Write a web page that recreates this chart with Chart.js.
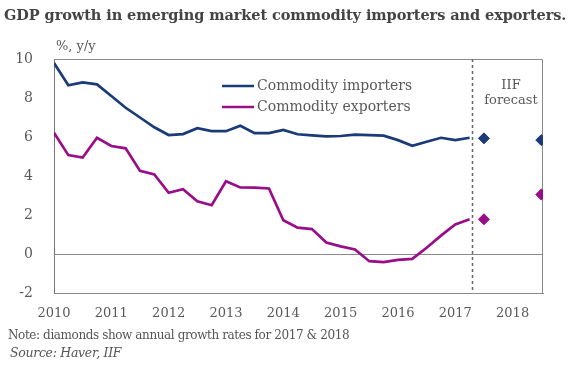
<!DOCTYPE html>
<html>
<head>
<meta charset="utf-8">
<script src="https://cdn.jsdelivr.net/npm/chart.js@4.4.1/dist/chart.umd.min.js"></script>
<style>
    html, body { margin: 0; padding: 0; background: #fff; }
    #wrap { position: relative; width: 570px; height: 372px; overflow: hidden; }
    #chart { position: absolute; left: 0; top: 0; }
    .txt { position: absolute; font-family: "DejaVu Serif", serif; color: #555; white-space: nowrap; }
    #title { left: 4px; top: 6px; font-size: 14.5px; font-weight: bold; color: #444; letter-spacing: -0.08px; }
    #note { left: 8px; top: 328px; font-size: 12px; letter-spacing: -0.4px; }
    #source { left: 10px; top: 345px; font-size: 12.5px; font-style: italic; letter-spacing: -0.3px; }
</style>
</head>
<body>
<div id="wrap">
    <canvas id="chart" width="570" height="372"></canvas>
    <div class="txt" id="title">GDP growth in emerging market commodity importers and exporters.</div>
    <div class="txt" id="note">Note: diamonds show annual growth rates for 2017 &amp; 2018</div>
    <div class="txt" id="source">Source: Haver, IIF</div>
</div>
<script>
// quarterly data, 2010Q1 .. 2017Q2
const startYear = 2010;
const importers = [9.8, 8.65, 8.8, 8.7, 8.1, 7.5, 7.0, 6.5, 6.1, 6.15, 6.45, 6.3, 6.3, 6.58, 6.2,
    6.2, 6.36, 6.14, 6.08, 6.03, 6.05, 6.12, 6.1, 6.07, 5.84, 5.55, 5.76, 5.96, 5.84, 5.96];
const exporters = [6.22, 5.07, 4.95, 5.96, 5.54, 5.42, 4.26, 4.08, 3.14, 3.32, 2.7, 2.5, 3.73, 3.41, 3.4,
    3.36, 1.73, 1.35, 1.28, 0.59, 0.39, 0.23, -0.37, -0.42, -0.3, -0.25, 0.32, 0.94, 1.52, 1.78];

// annual forecasts (diamonds)
const forecastYears = [2017, 2018];
const importersAnnual = [5.93, 5.84];
const exportersAnnual = [1.78, 3.05];

const yearTicks = [2010, 2011, 2012, 2013, 2014, 2015, 2016, 2017, 2018];
const yTicks = [-2, 0, 2, 4, 6, 8, 10];

const blue = '#1a3a78';
const purple = '#990d88';
const grey = '#8a8a8a';
const textGrey = '#595959';
const serif = '"DejaVu Serif", serif';

const toPoints = arr => arr.map((v, i) => ({ x: startYear + i / 4, y: v }));
const annualPoints = arr => arr.map((v, i) => ({ x: forecastYears[i] + 0.5, y: v }));

// frame, forecast divider and in-chart labels
const decorations = {
    id: 'decorations',
    beforeDatasetsDraw(chart) {
        const { ctx, chartArea: a, scales: { x, y } } = chart;
        ctx.save();
        ctx.strokeStyle = grey;
        ctx.lineWidth = 1;
        ctx.beginPath();
        ctx.moveTo(a.left, a.top + 0.5);
        ctx.lineTo(a.right - 0.5, a.top + 0.5);
        ctx.lineTo(a.right - 0.5, a.bottom);
        ctx.stroke();

        // zero line
        const y0 = Math.round(y.getPixelForValue(0)) + 0.5;
        ctx.beginPath();
        ctx.moveTo(a.left, y0);
        ctx.lineTo(a.right, y0);
        ctx.stroke();

        // forecast divider
        const xd = Math.round(x.getPixelForValue(2017.3)) + 0.5;
        ctx.strokeStyle = '#666';
        ctx.lineWidth = 1.5;
        ctx.setLineDash([3, 3]);
        ctx.beginPath();
        ctx.moveTo(xd, a.top);
        ctx.lineTo(xd, a.bottom);
        ctx.stroke();
        ctx.setLineDash([]);

        ctx.fillStyle = textGrey;
        ctx.font = '13px ' + serif;
        ctx.textAlign = 'center';
        ctx.textBaseline = 'middle';
        ctx.fillText('IIF', 511, 86);
        ctx.fillText('forecast', 511, 101);

        ctx.textAlign = 'left';
        ctx.fillText('%, y/y', a.left + 2, a.top - 12);

        // legend
        const items = [['Commodity importers', blue, 86], ['Commodity exporters', purple, 107]];
        ctx.font = '14px ' + serif;
        items.forEach(([label, color, ly]) => {
            ctx.strokeStyle = color;
            ctx.lineWidth = 2.5;
            ctx.beginPath();
            ctx.moveTo(222, ly);
            ctx.lineTo(254, ly);
            ctx.stroke();
            ctx.fillText(label, 257, ly);
        });
        ctx.restore();
    }
};

new Chart(document.getElementById('chart'), {
    type: 'line',
    data: {
        datasets: [
            { label: 'Commodity importers', data: toPoints(importers), borderColor: blue, borderWidth: 2.7, pointRadius: 0, tension: 0 },
            { label: 'Commodity exporters', data: toPoints(exporters), borderColor: purple, borderWidth: 2.7, pointRadius: 0, tension: 0 },
            { label: 'Importers annual', data: annualPoints(importersAnnual), showLine: false, pointStyle: 'rectRot', pointRadius: 5.5, backgroundColor: blue, borderColor: blue },
            { label: 'Exporters annual', data: annualPoints(exportersAnnual), showLine: false, pointStyle: 'rectRot', pointRadius: 5.5, backgroundColor: purple, borderColor: purple }
        ]
    },
    options: {
        responsive: false,
        animation: false,
        layout: { padding: { left: 0, top: 59, right: 27, bottom: 49 } },
        plugins: { legend: { display: false }, tooltip: { enabled: false } },
        scales: {
            x: {
                type: 'linear',
                min: 2010,
                max: 2018.53,
                afterBuildTicks: s => { s.ticks = yearTicks.map(v => ({ value: v })); },
                afterFit: s => { s.height = 30; },
                grid: { display: false },
                border: { display: true, color: grey, width: 1 },
                ticks: { color: textGrey, font: { family: serif, size: 13 }, padding: 5, maxRotation: 0, callback: v => String(v) }
            },
            y: {
                min: -2,
                max: 10,
                afterBuildTicks: s => { s.ticks = yTicks.map(v => ({ value: v })); },
                afterFit: s => { s.width = 54; },
                grid: { display: false },
                border: { display: true, color: '#777', width: 1 },
                ticks: { color: textGrey, font: { family: serif, size: 14 }, padding: 13 }
            }
        }
    },
    plugins: [decorations]
});
</script>
</body>
</html>
